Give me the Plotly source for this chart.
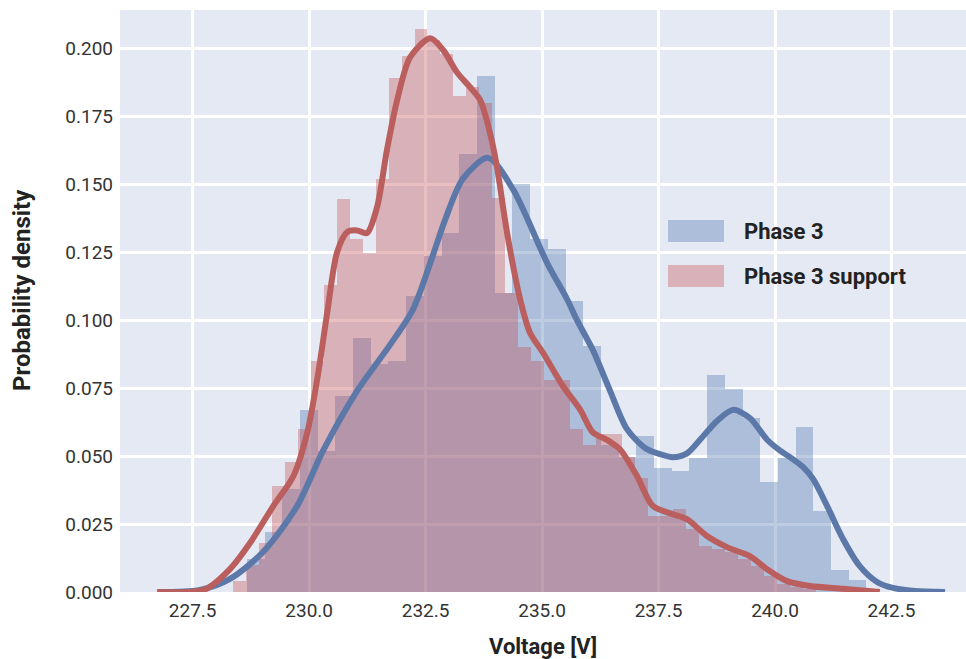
import plotly.graph_objects as go

# ---------------- data ----------------
# Histogram (density) of Phase 3
p3_bin_start = 228.663
p3_bin_width = 0.380
p3_hist = [0.012, 0.022, 0.038, 0.067, 0.052, 0.072, 0.0936, 0.084, 0.085, 0.109,
           0.1235, 0.132, 0.161, 0.190, 0.110, 0.150, 0.130, 0.126, 0.107, 0.0904,
           0.054, 0.0495, 0.0574, 0.0458, 0.0445, 0.0494, 0.0797, 0.0748, 0.0641, 0.0403,
           0.0494, 0.0607, 0.0299, 0.0081, 0.0045]

# Histogram (density) of Phase 3 support
sup_bin_start = 228.371
sup_bin_width = 0.2779
sup_hist = [0.004, 0.010, 0.018, 0.039, 0.048, 0.060, 0.085, 0.113, 0.1445, 0.130,
            0.1247, 0.152, 0.189, 0.197, 0.207, 0.203, 0.198, 0.1825, 0.1857, 0.180,
            0.145, 0.110, 0.090, 0.085, 0.078, 0.078, 0.060, 0.054, 0.058, 0.058,
            0.0495, 0.042, 0.028, 0.028, 0.0305, 0.023, 0.017, 0.016, 0.0147, 0.012,
            0.0095, 0.006, 0.003, 0.002, 0.001]

# KDE curves
p3_kde_x = [226.74, 227.66, 228.30, 229.01, 229.74, 230.30, 231.03, 231.74, 232.23, 232.60,
            232.92, 233.30, 233.84, 234.38, 235.11, 235.54, 235.75, 236.09, 236.46, 236.82,
            237.21, 237.53, 237.81, 238.11, 238.39, 238.76, 239.10, 239.46, 239.83, 240.11,
            240.39, 240.60, 240.82, 241.12, 241.46, 241.82, 242.19, 242.53, 243.00, 243.65]
p3_kde_y = [0.0, 0.0008, 0.0048, 0.0147, 0.0316, 0.052, 0.074, 0.091, 0.104, 0.121,
            0.137, 0.152, 0.1597, 0.148, 0.121, 0.1076, 0.100, 0.089, 0.074, 0.060,
            0.053, 0.0507, 0.0496, 0.051, 0.056, 0.063, 0.067, 0.064, 0.056, 0.052,
            0.0488, 0.046, 0.0415, 0.0316, 0.0195, 0.0095, 0.0037, 0.0015, 0.0004, 0.0]

sup_kde_x = [226.74, 227.77, 228.30, 228.73, 229.23, 229.66, 229.96, 230.19, 230.39, 230.60,
             230.82, 231.03, 231.24, 231.46, 231.67, 231.89, 232.17, 232.60, 232.88, 233.18,
             233.45, 233.67, 233.88, 234.03, 234.25, 234.53, 234.74, 235.02, 235.45, 235.82,
             236.09, 236.39, 236.67, 237.04, 237.38, 237.81, 238.11, 238.54, 238.97, 239.46,
             239.83, 240.26, 240.75, 241.46, 242.25]
sup_kde_y = [0.0, 0.001, 0.0084, 0.018, 0.0316, 0.0426, 0.0587, 0.080, 0.103, 0.125,
             0.1325, 0.133, 0.132, 0.1417, 0.1626, 0.181, 0.1968, 0.2037, 0.1993, 0.191,
             0.1858, 0.181, 0.169, 0.1565, 0.132, 0.1076, 0.0954, 0.088, 0.0757, 0.067,
             0.0587, 0.056, 0.0525, 0.0426, 0.0316, 0.0286, 0.0268, 0.0206, 0.0165, 0.0132,
             0.0084, 0.004, 0.0022, 0.0012, 0.0]

x_ticks = [227.5, 230.0, 232.5, 235.0, 237.5, 240.0, 242.5]
y_ticks = [0.0, 0.025, 0.05, 0.075, 0.1, 0.125, 0.15, 0.175, 0.2]
series_names = ["Phase 3", "Phase 3 support"]

# ---------------- style ----------------
BLUE_BAR = "rgba(76,114,176,0.36)"
RED_BAR = "rgba(196,78,82,0.36)"
BLUE_LINE = "#5b78a8"
RED_LINE = "#bb5e5e"
BG = "#E4E9F3"
FONT = "Roboto"

p3_centers = [p3_bin_start + p3_bin_width * (i + 0.5) for i in range(len(p3_hist))]
sup_centers = [sup_bin_start + sup_bin_width * (i + 0.5) for i in range(len(sup_hist))]

fig = go.Figure()
fig.add_trace(go.Bar(x=p3_centers, y=p3_hist, width=p3_bin_width, name=series_names[0],
                     marker=dict(color=BLUE_BAR, line=dict(width=0)), showlegend=False))
fig.add_trace(go.Bar(x=sup_centers, y=sup_hist, width=sup_bin_width, name=series_names[1],
                     marker=dict(color=RED_BAR, line=dict(width=0)), showlegend=False))
fig.add_trace(go.Scatter(x=p3_kde_x, y=p3_kde_y, mode="lines",
                         line=dict(color=BLUE_LINE, width=6, shape="spline", smoothing=0.8),
                         showlegend=False))
fig.add_trace(go.Scatter(x=sup_kde_x, y=sup_kde_y, mode="lines",
                         line=dict(color=RED_LINE, width=6, shape="spline", smoothing=0.8),
                         showlegend=False))

# custom legend (wide patches like the original)
L, T, PW, PH = 120, 10, 846, 582
def px_x(p):
    return (p - L) / PW
def px_y(p):
    return (T + PH - p) / PH

legend_rows = [(series_names[0], BLUE_BAR, 220, 242), (series_names[1], RED_BAR, 265, 287)]
for name, col, y0, y1 in legend_rows:
    fig.add_shape(type="rect", xref="paper", yref="paper",
                  x0=px_x(668), x1=px_x(724), y0=px_y(y1), y1=px_y(y0),
                  fillcolor=col, line=dict(width=0), layer="above")
    fig.add_annotation(xref="paper", yref="paper", x=px_x(742), y=px_y((y0 + y1) / 2),
                       text="<b>%s</b>" % name, showarrow=False, xanchor="left", yanchor="middle",
                       font=dict(family=FONT, size=22, color="#222222"))

# y axis title placed like the original
fig.add_annotation(xref="paper", yref="paper", x=px_x(22), y=px_y(290),
                   text="<b>Probability density</b>", textangle=-90, showarrow=False,
                   xanchor="center", yanchor="middle",
                   font=dict(family=FONT, size=24, color="#222222"))

fig.update_layout(
    width=966, height=659,
    margin=dict(l=L, r=0, t=T, b=659 - T - PH),
    paper_bgcolor="white", plot_bgcolor=BG,
    barmode="overlay", bargap=0,
    font=dict(family=FONT, color="#333333"),
    showlegend=False,
)
fig.update_xaxes(range=[225.94, 244.10], tickvals=x_ticks,
                 ticktext=["%.1f" % v for v in x_ticks],
                 showgrid=True, gridcolor="white", gridwidth=2.5, zeroline=False,
                 showline=False, ticks="", ticklabelstandoff=5,
                 tickfont=dict(family=FONT, size=19, color="#333333"),
                 title=dict(text="<b>Voltage [V]</b>", font=dict(family=FONT, size=22, color="#222222"),
                            standoff=17))
fig.update_yaxes(range=[0, 0.2141], tickvals=y_ticks,
                 ticktext=["%.3f" % v for v in y_ticks],
                 showgrid=True, gridcolor="white", gridwidth=2.5, zeroline=False,
                 showline=False, ticks="", ticklabelstandoff=6,
                 tickfont=dict(family=FONT, size=19, color="#333333"))

fig.write_html("out.html")
